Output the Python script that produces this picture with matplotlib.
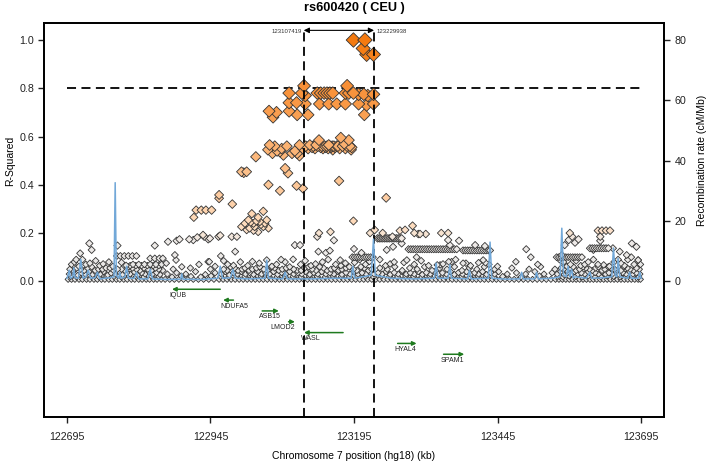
import matplotlib
matplotlib.use("Agg")
import matplotlib.pyplot as plt
import numpy as np
from matplotlib.colors import LinearSegmentedColormap

plt.rcParams['font.family'] = ['Liberation Sans', 'DejaVu Sans']

# ---------------- text / axes ----------------
title = "rs600420 ( CEU )"
x_label = "Chromosome 7 position (hg18) (kb)"
y_label = "R-Squared"
y2_label = "Recombination rate (cM/Mb)"
x_ticks = [122695, 122945, 123195, 123445, 123695]
y_ticks = [0.0, 0.2, 0.4, 0.6, 0.8, 1.0]
y2_ticks = [0, 20, 40, 60, 80]
region_start = 123107.419
region_end = 123229.938
region_start_label = "123107419"
region_end_label = "123229938"
r2_threshold = 0.8

# ---------------- genes ----------------
genes = ["IQUB", "NDUFA5", "ASB15", "LMOD2", "WASL", "HYAL4", "SPAM1"]
gene_start = [122878, 122967, 123035, 123081, 123108, 123271, 123351]
gene_end = [122962, 122985, 123064, 123092, 123176, 123304, 123387]
gene_strand = ['-', '-', '+', '+', '-', '+', '+']

# ---------------- SNPs (position kb, r2) ----------------
lead_snps = [(123194, 1.0), (123214, 1.0), (123211, 0.965), (123217, 0.94), (123229, 0.94)]

high_snps = [(123108, 0.81), (123183, 0.81),
             (123082, 0.78), (123104, 0.78), (123110, 0.77), (123131, 0.78), (123137, 0.78),
             (123143, 0.78), (123148, 0.78), (123153, 0.78), (123158, 0.78), (123180, 0.78),
             (123186, 0.78), (123194, 0.78), (123203, 0.775), (123212, 0.775), (123219, 0.77),
             (123229, 0.775),
             (123082, 0.74), (123095, 0.74), (123110, 0.735), (123135, 0.735), (123151, 0.735),
             (123165, 0.735), (123180, 0.735), (123203, 0.735), (123217, 0.73), (123229, 0.735),
             (123047, 0.705), (123060, 0.70), (123054, 0.68), (123082, 0.705), (123096, 0.69),
             (123115, 0.69), (123213, 0.69)]

mid_snps = [(123048, 0.565), (123045, 0.545), (123053, 0.53), (123057, 0.56), (123061, 0.54),
            (123069, 0.55), (123066, 0.537), (123072, 0.523), (123078, 0.56), (123087, 0.53),
            (123096, 0.53), (123092, 0.54), (123100, 0.565), (123106, 0.55), (123111, 0.56),
            (123115, 0.55), (123118, 0.565), (123122, 0.555), (123124, 0.56), (123127, 0.55),
            (123129, 0.565), (123132, 0.56), (123134, 0.585), (123137, 0.555), (123139, 0.56),
            (123141, 0.55), (123144, 0.56), (123146, 0.555), (123148, 0.56), (123150, 0.55),
            (123151, 0.565), (123153, 0.56), (123155, 0.555), (123157, 0.56), (123158, 0.545),
            (123160, 0.56), (123162, 0.555), (123165, 0.56), (123167, 0.56), (123170, 0.55),
            (123172, 0.595), (123175, 0.56), (123178, 0.57), (123180, 0.55), (123183, 0.56),
            (123186, 0.585), (123188, 0.56), (123190, 0.545), (123191, 0.555), (123024, 0.516),
            (123100, 0.52)]

moderate_snps = [(122999, 0.454), (123003, 0.45), (123008, 0.454), (123075, 0.468), (123080, 0.448),
                 (123046, 0.40), (123066, 0.375), (123095, 0.396), (123106, 0.385), (123169, 0.416),
                 (123194, 0.25), (123251, 0.346), (122960, 0.358), (122960, 0.344), (122983, 0.32),
                 (122920, 0.295), (122929, 0.295), (122937, 0.295), (122947, 0.295), (122916, 0.265),
                 (123017, 0.28), (123037, 0.29), (123028, 0.265), (123011, 0.254), (123005, 0.24),
                 (122999, 0.226), (123020, 0.24), (123031, 0.247), (123043, 0.254), (123046, 0.22),
                 (123013, 0.22), (123028, 0.205), (123008, 0.213), (123037, 0.226), (123022, 0.226),
                 (123025, 0.25), (123033, 0.235), (123015, 0.245), (123040, 0.24), (123020, 0.21),
                 (123154, 0.205), (123223, 0.20), (123231, 0.213), (123275, 0.21), (123284, 0.213),
                 (123297, 0.23), (123571, 0.20), (123620, 0.21), (123627, 0.21), (123634, 0.21),
                 (123641, 0.21)]

low_snps = [(122734, 0.157), (122738, 0.13), (122718, 0.116), (122711, 0.09), (122783, 0.148),
            (122848, 0.148), (122871, 0.164), (122886, 0.168), (122891, 0.174), (122908, 0.174),
            (122915, 0.171), (122922, 0.182), (122932, 0.192), (122941, 0.174), (122883, 0.109),
            (122885, 0.088), (122941, 0.081), (122959, 0.185), (122962, 0.19), (122944, 0.178),
            (122934, 0.185), (122982, 0.185), (122991, 0.185), (122988, 0.123), (122943, 0.081),
            (122963, 0.105), (123133, 0.123), (123146, 0.118), (123153, 0.127), (123195, 0.134),
            (123208, 0.118), (123171, 0.088), (123092, 0.15), (123160, 0.17), (123131, 0.185),
            (123134, 0.2), (123101, 0.15), (123252, 0.13), (123263, 0.143), (123287, 0.088),
            (123304, 0.1), (123345, 0.068), (123365, 0.081), (123390, 0.075), (123424, 0.077),
            (123307, 0.196), (123320, 0.196), (123347, 0.2), (123359, 0.2), (123359, 0.171),
            (123378, 0.168), (123406, 0.15), (123423, 0.146), (123300, 0.2), (123310, 0.196),
            (123262, 0.185), (123245, 0.2), (123278, 0.157), (123362, 0.15), (123477, 0.081),
            (123495, 0.133), (123503, 0.1), (123557, 0.109), (123562, 0.15), (123569, 0.171),
            (123586, 0.174), (123612, 0.13), (123646, 0.137), (123658, 0.123), (123679, 0.157),
            (123687, 0.143), (123670, 0.109), (123690, 0.088), (123624, 0.185), (123624, 0.168),
            (123575, 0.185), (123580, 0.16)]

band_snps = [(123236, 0.178), (123239, 0.178), (123242, 0.178), (123245, 0.178), (123248, 0.178),
             (123251, 0.178), (123254, 0.178), (123257, 0.178), (123260, 0.178), (123263, 0.178),
             (123266, 0.178), (123269, 0.178), (123272, 0.178), (123275, 0.178), (123278, 0.178),
             (123290, 0.133), (123294, 0.133), (123298, 0.133), (123302, 0.133), (123306, 0.133),
             (123310, 0.133), (123314, 0.133), (123318, 0.133), (123322, 0.133), (123326, 0.133),
             (123330, 0.133), (123334, 0.133), (123338, 0.133), (123342, 0.133), (123346, 0.133),
             (123350, 0.133), (123354, 0.133), (123358, 0.133), (123362, 0.133), (123366, 0.133),
             (123370, 0.133), (123374, 0.133),
             (123385, 0.128), (123389, 0.128), (123393, 0.128), (123397, 0.128), (123401, 0.128),
             (123405, 0.128), (123409, 0.128), (123413, 0.128), (123417, 0.128), (123421, 0.128),
             (123425, 0.128), (123429, 0.128), (123432, 0.128),
             (123192, 0.10), (123196, 0.10), (123200, 0.10), (123204, 0.10), (123208, 0.10),
             (123212, 0.10), (123216, 0.10), (123220, 0.10), (123224, 0.10), (123228, 0.10),
             (123548, 0.10), (123552, 0.10), (123556, 0.10), (123560, 0.10), (123564, 0.10),
             (123568, 0.10), (123572, 0.10), (123576, 0.10), (123580, 0.10), (123584, 0.10),
             (123588, 0.10), (123592, 0.10),
             (123606, 0.137), (123610, 0.137), (123614, 0.137), (123618, 0.137), (123622, 0.137),
             (123626, 0.137), (123630, 0.137), (123634, 0.137), (123638, 0.137)]

row_d_snps = [(122703, 0.07), (122722, 0.09), (122735, 0.075), (122752, 0.065), (122768, 0.08),
              (122805, 0.065), (122810, 0.07), (122815, 0.065), (122820, 0.07), (122825, 0.065),
              (122830, 0.07), (122835, 0.065), (122840, 0.07), (122845, 0.065), (122850, 0.07),
              (122855, 0.065), (122860, 0.07), (122840, 0.095), (122848, 0.095), (122856, 0.095),
              (122862, 0.095), (122782, 0.105), (122788, 0.105), (122795, 0.105), (122802, 0.105),
              (122809, 0.105), (122816, 0.105), (122975, 0.07), (122997, 0.08), (123010, 0.065),
              (123030, 0.075), (123043, 0.088), (123060, 0.07), (123075, 0.08), (123089, 0.091),
              (123102, 0.07), (123120, 0.065), (123140, 0.08), (123163, 0.07), (123180, 0.075),
              (123215, 0.07), (123250, 0.065), (123265, 0.08), (123300, 0.07), (123325, 0.065),
              (123340, 0.068), (123360, 0.081), (123385, 0.075), (123412, 0.077), (123430, 0.07),
              (123560, 0.08), (123572, 0.07), (123590, 0.065), (123603, 0.08), (123620, 0.07),
              (123630, 0.068), (123648, 0.08), (123660, 0.075), (123672, 0.09), (123690, 0.088),
              (123683, 0.07), (122708, 0.08), (122716, 0.062), (122728, 0.07), (122745, 0.085),
              (122758, 0.072), (122775, 0.062), (122790, 0.078), (122798, 0.066), (122868, 0.075),
              (122895, 0.06), (122925, 0.07), (122953, 0.062), (122968, 0.085), (122985, 0.066),
              (123018, 0.082), (123052, 0.062), (123068, 0.09), (123110, 0.085), (123128, 0.072),
              (123150, 0.09), (123172, 0.065), (123196, 0.078), (123205, 0.09), (123222, 0.082),
              (123240, 0.09), (123258, 0.072), (123282, 0.078), (123312, 0.085), (123350, 0.072),
              (123372, 0.09), (123398, 0.065), (123420, 0.088), (123445, 0.062), (123515, 0.07),
              (123553, 0.09), (123566, 0.062), (123582, 0.085), (123597, 0.07), (123612, 0.09),
              (123640, 0.062), (123655, 0.09), (123666, 0.065), (123678, 0.1), (123694, 0.07)]

row_c_snps = [(122700, 0.05), (122712, 0.055), (122725, 0.045), (122738, 0.06), (122750, 0.05),
              (122763, 0.055), (122776, 0.045), (122790, 0.05), (122803, 0.06), (122816, 0.05),
              (122829, 0.055), (122842, 0.045), (122855, 0.05), (122880, 0.05), (122910, 0.055),
              (122945, 0.05), (122968, 0.05), (122980, 0.06), (122993, 0.045), (123005, 0.055),
              (123018, 0.05), (123031, 0.06), (123044, 0.045), (123057, 0.055), (123070, 0.05),
              (123083, 0.06), (123096, 0.045), (123109, 0.055), (123122, 0.05), (123135, 0.06),
              (123148, 0.045), (123161, 0.055), (123174, 0.05), (123187, 0.06), (123200, 0.045),
              (123213, 0.055), (123226, 0.05), (123240, 0.055), (123253, 0.05), (123266, 0.06),
              (123279, 0.045), (123292, 0.055), (123305, 0.05), (123318, 0.06), (123331, 0.045),
              (123344, 0.055), (123357, 0.05), (123370, 0.06), (123383, 0.045), (123396, 0.055),
              (123409, 0.05), (123422, 0.06), (123440, 0.05), (123470, 0.055), (123500, 0.05),
              (123520, 0.06), (123545, 0.05), (123556, 0.055), (123566, 0.045), (123577, 0.06),
              (123588, 0.05), (123599, 0.055), (123610, 0.045), (123621, 0.06), (123632, 0.05),
              (123643, 0.055), (123654, 0.045), (123665, 0.06), (123676, 0.05), (123687, 0.055),
              (122706, 0.045), (122719, 0.05), (122731, 0.055), (122744, 0.045), (122757, 0.05),
              (122770, 0.055), (122783, 0.05), (122796, 0.045), (122809, 0.055), (122822, 0.045),
              (122836, 0.05), (122849, 0.055), (122862, 0.045), (122974, 0.045), (122987, 0.055),
              (123000, 0.05), (123012, 0.045), (123025, 0.055), (123038, 0.05), (123051, 0.06),
              (123064, 0.045), (123077, 0.055), (123090, 0.05), (123103, 0.045), (123116, 0.06),
              (123129, 0.045), (123142, 0.055), (123155, 0.05), (123168, 0.045), (123181, 0.055),
              (123194, 0.05), (123207, 0.06), (123220, 0.045), (123560, 0.05), (123571, 0.055),
              (123582, 0.045), (123594, 0.06), (123605, 0.05), (123616, 0.055), (123627, 0.045),
              (123638, 0.06), (123649, 0.05), (123660, 0.045), (123671, 0.055), (123682, 0.045),
              (123692, 0.05)]

row_b_snps = [(122699, 0.03), (122706, 0.04), (122714, 0.025), (122720, 0.035), (122727, 0.03),
              (122733, 0.04), (122740, 0.028), (122746, 0.036), (122753, 0.03), (122759, 0.04),
              (122766, 0.026), (122772, 0.034), (122779, 0.03), (122786, 0.04), (122792, 0.028),
              (122799, 0.035), (122805, 0.03), (122812, 0.04), (122818, 0.026), (122825, 0.035),
              (122831, 0.03), (122838, 0.04), (122844, 0.03), (122851, 0.036), (122857, 0.028),
              (122870, 0.03), (122886, 0.035), (122902, 0.03), (122919, 0.04), (122936, 0.028),
              (122953, 0.035), (122964, 0.03), (122971, 0.04), (122978, 0.026), (122985, 0.035),
              (122992, 0.03), (122999, 0.04), (123006, 0.03), (123013, 0.036), (123020, 0.028),
              (123027, 0.04), (123034, 0.03), (123041, 0.035), (123048, 0.03), (123055, 0.04),
              (123062, 0.028), (123069, 0.036), (123076, 0.03), (123083, 0.04), (123090, 0.03),
              (123097, 0.035), (123104, 0.03), (123111, 0.04), (123118, 0.028), (123125, 0.036),
              (123132, 0.03), (123139, 0.04), (123146, 0.03), (123153, 0.035), (123160, 0.03),
              (123167, 0.04), (123174, 0.028), (123181, 0.036), (123188, 0.03), (123195, 0.04),
              (123202, 0.03), (123209, 0.035), (123216, 0.03), (123223, 0.04), (123230, 0.03),
              (123237, 0.035), (123244, 0.03), (123251, 0.04), (123258, 0.028), (123265, 0.036),
              (123272, 0.03), (123279, 0.04), (123286, 0.03), (123293, 0.035), (123300, 0.03),
              (123307, 0.04), (123314, 0.028), (123321, 0.036), (123328, 0.03), (123335, 0.04),
              (123342, 0.03), (123349, 0.035), (123356, 0.03), (123363, 0.04), (123370, 0.028),
              (123377, 0.036), (123384, 0.03), (123391, 0.04), (123398, 0.03), (123405, 0.035),
              (123412, 0.03), (123419, 0.04), (123426, 0.028), (123433, 0.036), (123440, 0.03),
              (123447, 0.04), (123462, 0.03), (123478, 0.035), (123494, 0.03), (123510, 0.04),
              (123526, 0.03), (123540, 0.035), (123549, 0.03), (123555, 0.04), (123561, 0.028),
              (123567, 0.036), (123573, 0.03), (123579, 0.04), (123585, 0.03), (123591, 0.035),
              (123597, 0.03), (123603, 0.04), (123609, 0.028), (123615, 0.036), (123621, 0.03),
              (123627, 0.04), (123633, 0.03), (123639, 0.035), (123645, 0.03), (123651, 0.04),
              (123657, 0.028), (123663, 0.036), (123669, 0.03), (123675, 0.04), (123681, 0.03),
              (123687, 0.035), (123693, 0.03)]

row_e_snps = [(122701, 0.02), (122712, 0.018), (122725, 0.022), (122738, 0.02), (122751, 0.018),
              (122764, 0.022), (122777, 0.02), (122790, 0.018), (122803, 0.022), (122816, 0.02),
              (122829, 0.018), (122842, 0.022), (122855, 0.02), (122878, 0.018), (122894, 0.022),
              (122911, 0.02), (122928, 0.018), (122946, 0.022), (122963, 0.02), (122977, 0.018),
              (122991, 0.022), (123005, 0.02), (123019, 0.018), (123033, 0.022), (123047, 0.02),
              (123061, 0.018), (123075, 0.022), (123089, 0.02), (123103, 0.018), (123117, 0.022),
              (123131, 0.02), (123145, 0.018), (123159, 0.022), (123173, 0.02), (123187, 0.018),
              (123201, 0.022), (123215, 0.02), (123229, 0.018), (123243, 0.022), (123257, 0.02),
              (123271, 0.018), (123285, 0.022), (123299, 0.02), (123313, 0.018), (123327, 0.022),
              (123341, 0.02), (123355, 0.018), (123369, 0.022), (123383, 0.02), (123397, 0.018),
              (123411, 0.022), (123425, 0.02), (123439, 0.018), (123454, 0.02), (123486, 0.018),
              (123518, 0.022), (123550, 0.02), (123559, 0.018), (123570, 0.022), (123581, 0.02),
              (123592, 0.018), (123603, 0.022), (123614, 0.02), (123625, 0.018), (123636, 0.022),
              (123647, 0.02), (123658, 0.018), (123669, 0.022), (123680, 0.02), (123691, 0.018)]

row_a_pos = [122697, 122703, 122709, 122716, 122722, 122729, 122735, 122742, 122748, 122755,
             122761, 122768, 122774, 122781, 122787, 122794, 122800, 122807, 122813, 122820,
             122826, 122833, 122839, 122846, 122852, 122859, 122866, 122874, 122882, 122890,
             122898, 122906, 122915, 122924, 122933, 122942, 122951, 122960, 122967, 122974,
             122981, 122988, 122995, 123002, 123009, 123016, 123023, 123030, 123037, 123044,
             123051, 123058, 123065, 123072, 123079, 123086, 123093, 123100, 123107, 123114,
             123121, 123128, 123135, 123142, 123149, 123156, 123163, 123170, 123177, 123184,
             123191, 123198, 123205, 123212, 123219, 123226, 123233, 123240, 123247, 123254,
             123261, 123268, 123275, 123282, 123289, 123296, 123303, 123310, 123317, 123324,
             123331, 123338, 123345, 123352, 123359, 123366, 123373, 123380, 123387, 123394,
             123401, 123408, 123415, 123422, 123429, 123436, 123443, 123450, 123458, 123466,
             123474, 123482, 123490, 123498, 123506, 123514, 123522, 123530, 123538, 123546,
             123552, 123558, 123564, 123570, 123576, 123582, 123588, 123594, 123600, 123606,
             123612, 123618, 123624, 123630, 123636, 123642, 123648, 123654, 123660, 123666,
             123672, 123678, 123684, 123690, 123694]
row_a_r2 = 0.008

# ---------------- recombination rate ----------------
rec_pos = [122695, 122697, 122699, 122701, 122705, 122707, 122709, 122715, 122719, 122723,
           122728, 122732, 122736, 122744, 122748, 122752, 122770, 122777, 122779, 122781,
           122785, 122787, 122789, 122796, 122799, 122802, 122812, 122816, 122820, 122836,
           122840, 122844, 122870, 122893, 122895, 122897, 122930, 122958, 122962, 122966,
           122980, 122984, 122988, 123010, 123040, 123043, 123046, 123071, 123075, 123079,
           123120, 123160, 123190, 123193, 123196, 123225, 123229, 123232, 123260, 123300,
           123335, 123338, 123341, 123359, 123362, 123365, 123393, 123396, 123399, 123429,
           123432, 123435, 123460, 123484, 123487, 123490, 123510, 123513, 123516, 123540,
           123554, 123557, 123560, 123565, 123568, 123571, 123574, 123577, 123580, 123600,
           123606, 123609, 123630, 123644, 123647, 123650, 123653, 123655, 123658, 123672,
           123675, 123678, 123690, 123693, 123695]
rec_rate = [1.0, 2.0, 3.7, 1.0, 1.5, 4.5, 1.2, 1.0, 7.3, 1.0,
            1.5, 3.7, 1.0, 1.2, 3.0, 0.8, 1.2, 1.5, 32.7, 2.0,
            1.0, 3.0, 1.0, 1.5, 5.0, 1.0, 1.0, 3.0, 0.8, 0.8,
            4.0, 0.8, 0.6, 0.7, 2.5, 0.7, 0.6, 1.0, 5.0, 1.0,
            1.2, 4.0, 1.0, 0.8, 1.0, 7.0, 1.0, 0.8, 3.0, 0.8,
            0.8, 1.0, 1.0, 5.0, 1.0, 2.0, 14.0, 2.0, 1.0, 0.8,
            1.0, 6.0, 1.0, 1.0, 5.5, 1.0, 0.8, 3.7, 0.8, 1.0,
            13.0, 1.0, 0.7, 0.8, 3.0, 0.8, 0.8, 3.0, 0.8, 1.0,
            1.5, 17.6, 2.0, 1.5, 5.0, 1.5, 4.0, 1.0, 1.5, 1.0,
            3.0, 1.0, 1.2, 1.5, 11.0, 2.0, 1.5, 7.6, 1.5, 1.0,
            3.0, 1.0, 1.0, 3.0, 1.0]

# ---------------- build arrays ----------------
all_pts = (lead_snps + high_snps + mid_snps + moderate_snps + low_snps + band_snps
           + row_d_snps + row_c_snps + row_b_snps + row_e_snps
           + [(p, row_a_r2) for p in row_a_pos])
pos = np.array([p for p, r in all_pts], dtype=float)
r2 = np.array([r for p, r in all_pts], dtype=float)
order = np.argsort(r2, kind='stable')
pos, r2 = pos[order], r2[order]

cmap = LinearSegmentedColormap.from_list(
    "snap", [(0.0, "#E4E4E4"), (0.17, "#EFEBE8"), (0.22, "#FDDDC0"),
             (0.5, "#FCBA80"), (0.78, "#F8933C"), (1.0, "#F47A10")])
width_px = 6.0 + 8.5 * r2
sizes = (width_px / 1.964) ** 2

fig = plt.figure(figsize=(7.09, 4.61), dpi=100)
ax = fig.add_axes([44 / 709, 1 - 417 / 461, 620 / 709, 394 / 461])
ax.set_xlim(122655, 123735)
ax.set_ylim(-0.5624, 1.0705)

ax.scatter(pos, r2, s=sizes, marker='D', c=r2, cmap=cmap, vmin=0, vmax=1,
           edgecolors='#333333', linewidths=0.6, zorder=3)

dash = (0, (5, 3))
ax.plot([x_ticks[0], x_ticks[-1]], [r2_threshold, r2_threshold], color='black',
        lw=1.3, ls=dash, zorder=2)
for xv in (region_start, region_end):
    ax.plot([xv, xv], [-0.5624, 1.04], color='black', lw=1.3, ls=dash, zorder=4)

ax.annotate('', xy=(region_start, 1.04), xytext=(region_end, 1.04),
            arrowprops=dict(arrowstyle='<|-|>', color='black', lw=0.8,
                            mutation_scale=8, shrinkA=0, shrinkB=0), zorder=5)
ax.text(region_start - 4, 1.036, region_start_label, fontsize=4.3, ha='right', va='center',
        color='#333333')
ax.text(region_end + 4, 1.036, region_end_label, fontsize=4.3, ha='left', va='center',
        color='#333333')

# genes
green = '#1f7a1f'
for i, g in enumerate(genes):
    yv = -0.033 - 0.0449 * i
    s0, e0 = gene_start[i], gene_end[i]
    if gene_strand[i] == '+':
        tail, head = s0, e0
    else:
        tail, head = e0, s0
    ax.annotate('', xy=(head, yv), xytext=(tail, yv),
                arrowprops=dict(arrowstyle='-|>', color=green, lw=1.1,
                                mutation_scale=6, shrinkA=0, shrinkB=0), zorder=3)
    if g == "LMOD2":
        ax.text(e0, yv - 0.025, g, fontsize=5, ha='right', va='center', color='#222222')
    else:
        ax.text(s0 - 5, yv - 0.025, g, fontsize=5, ha='left', va='center', color='#222222')

ax.set_xticks(x_ticks)
ax.set_xticklabels([str(t) for t in x_ticks])
ax.set_yticks(y_ticks)
ax.set_yticklabels([f"{t:.1f}" for t in y_ticks])
ax.tick_params(axis='both', direction='out', length=4.5, width=1.0, labelsize=7.7,
               colors='#222222')
ax.tick_params(axis='x', pad=6)
ax.tick_params(axis='y', pad=2.5)
for sp in ax.spines.values():
    sp.set_linewidth(1.3)
ax.set_xlabel(x_label, fontsize=7.5, labelpad=7)
ax.set_ylabel(y_label, fontsize=7.5)
ax.yaxis.set_label_coords(-0.047, 0.651)
ax.set_title(title, fontsize=9.2, fontweight='bold', pad=8.5)

ax2 = ax.twinx()
ax2.set_ylim(-0.5624 * 80, 1.0705 * 80)
ax2.plot(rec_pos, rec_rate, color='#72A8D8', lw=1.1, zorder=6)
ax2.set_yticks(y2_ticks)
ax2.set_yticklabels([str(t) for t in y2_ticks])
ax2.tick_params(axis='y', direction='out', length=4.5, width=1.0, labelsize=7.7, pad=3,
                colors='#222222')
ax2.set_ylabel(y2_label, fontsize=7.5)
ax2.yaxis.set_label_coords(1.053, 0.651)
for sp in ax2.spines.values():
    sp.set_linewidth(1.3)

fig.savefig("out.png", dpi=100)
